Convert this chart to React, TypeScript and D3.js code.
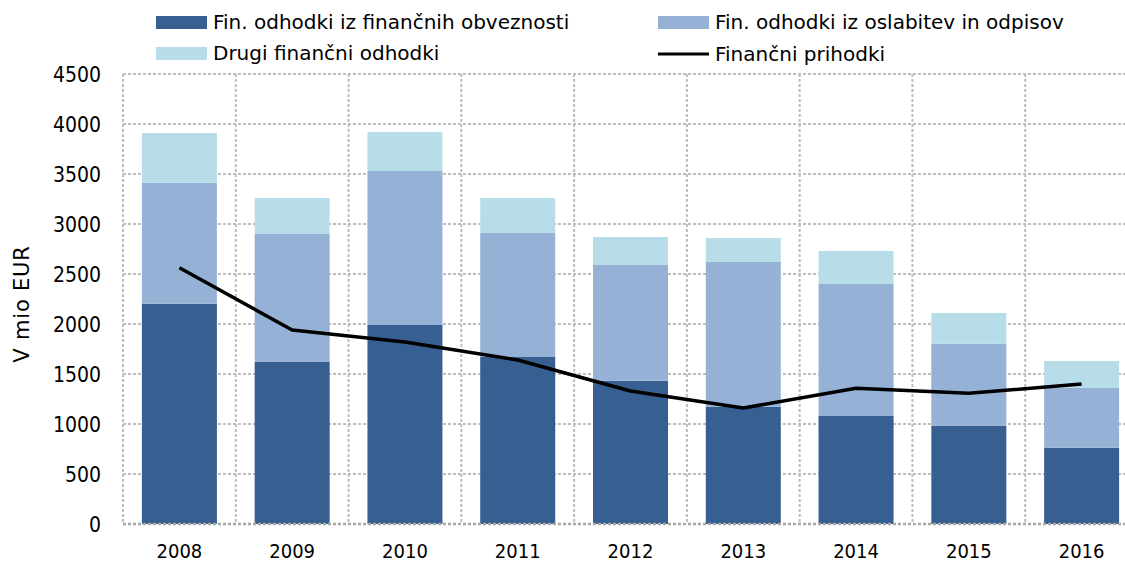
import React, { useEffect, useRef } from "react";
import * as d3 from "d3";

// years on the x axis
const years = ["2008", "2009", "2010", "2011", "2012", "2013", "2014", "2015", "2016"];

// stacked bar segments (mio EUR)
const obveznosti = [2203, 1623, 1990, 1670, 1433, 1173, 1080, 983, 763];
const oslabitve = [1210, 1277, 1540, 1240, 1157, 1447, 1320, 820, 597];
const drugi = [497, 360, 390, 350, 280, 240, 330, 307, 270];

// line series
const prihodki = [2563, 1940, 1820, 1640, 1330, 1160, 1357, 1307, 1400];

const yTicks = [0, 500, 1000, 1500, 2000, 2500, 3000, 3500, 4000, 4500];

const seriesKeys = ["obveznosti", "oslabitve", "drugi"];
const seriesLabels = {
  obveznosti: "Fin. odhodki iz finančnih obveznosti",
  oslabitve: "Fin. odhodki iz oslabitev in odpisov",
  drugi: "Drugi finančni odhodki",
  prihodki: "Finančni prihodki"
};
const colors = {
  obveznosti: "#375f91",
  oslabitve: "#95b2d6",
  drugi: "#b7dee8"
};

const NUM_FONT = "'DejaVu Sans Condensed', 'DejaVu Sans', sans-serif";
const TEXT_FONT = "'DejaVu Sans', sans-serif";
const GRID = "#bdbdbd";

function App() {
  const svgRef = useRef(null);

  useEffect(() => {
    const width = 1125;
    const height = 564;
    const margin = { top: 74, right: -13, bottom: 40, left: 123 };
    const innerRight = width - margin.right;
    const innerBottom = height - margin.bottom;

    const svg = d3.select(svgRef.current);
    svg.selectAll("*").remove();

    const data = years.map((year, i) => ({
      year,
      obveznosti: obveznosti[i],
      oslabitve: oslabitve[i],
      drugi: drugi[i],
      prihodki: prihodki[i]
    }));

    const xScale = d3
      .scaleBand()
      .domain(years)
      .range([margin.left, innerRight])
      .paddingInner(0.335)
      .paddingOuter(0.1675);
    const step = xScale.step();

    const yScale = d3.scaleLinear().domain([0, 4500]).range([innerBottom, margin.top]);

    // gridlines
    const grid = svg.append("g");
    grid
      .selectAll(".hgrid")
      .data(yTicks.filter(t => t > 0))
      .join("line")
      .attr("x1", margin.left)
      .attr("x2", innerRight)
      .attr("y1", d => yScale(d))
      .attr("y2", d => yScale(d))
      .attr("stroke", GRID)
      .attr("stroke-width", 2)
      .attr("stroke-dasharray", "3 2");
    grid
      .selectAll(".vgrid")
      .data(d3.range(years.length + 1))
      .join("line")
      .attr("x1", i => margin.left + i * step)
      .attr("x2", i => margin.left + i * step)
      .attr("y1", margin.top)
      .attr("y2", innerBottom)
      .attr("stroke", GRID)
      .attr("stroke-width", 2)
      .attr("stroke-dasharray", "3 2");

    // stacked bars
    const series = d3.stack().keys(seriesKeys)(data);
    svg
      .append("g")
      .selectAll("g")
      .data(series)
      .join("g")
      .attr("fill", d => colors[d.key])
      .selectAll("rect")
      .data(d => d)
      .join("rect")
      .attr("x", d => xScale(d.data.year))
      .attr("width", xScale.bandwidth())
      .attr("y", d => yScale(d[1]))
      .attr("height", d => yScale(d[0]) - yScale(d[1]));

    // bottom axis line
    svg
      .append("line")
      .attr("x1", margin.left)
      .attr("x2", innerRight)
      .attr("y1", innerBottom)
      .attr("y2", innerBottom)
      .attr("stroke", "#a8a8a8")
      .attr("stroke-width", 2.5)
      .attr("stroke-dasharray", "3 2");

    // line
    const line = d3
      .line()
      .x(d => xScale(d.year) + xScale.bandwidth() / 2)
      .y(d => yScale(d.prihodki));
    svg
      .append("path")
      .datum(data)
      .attr("fill", "none")
      .attr("stroke", "#000")
      .attr("stroke-width", 3.5)
      .attr("stroke-linejoin", "round")
      .attr("d", line);

    // y tick labels
    svg
      .append("g")
      .selectAll("text")
      .data(yTicks)
      .join("text")
      .attr("x", 101)
      .attr("y", d => yScale(d) + 8)
      .attr("text-anchor", "end")
      .attr("font-family", NUM_FONT)
      .attr("font-size", 21)
      .text(d => d);

    // x labels
    svg
      .append("g")
      .selectAll("text")
      .data(years)
      .join("text")
      .attr("x", d => xScale(d) + xScale.bandwidth() / 2)
      .attr("y", 558)
      .attr("text-anchor", "middle")
      .attr("font-family", NUM_FONT)
      .attr("font-size", 20)
      .text(d => d);

    // y axis title
    svg
      .append("text")
      .attr("transform", "translate(29, 304) rotate(-90)")
      .attr("text-anchor", "middle")
      .attr("font-family", TEXT_FONT)
      .attr("font-size", 21)
      .attr("letter-spacing", 0.8)
      .text("V mio EUR");

    // legend
    const legendItems = [
      { key: "obveznosti", x: 156, y: 22, type: "rect" },
      { key: "oslabitve", x: 658, y: 22, type: "rect" },
      { key: "drugi", x: 156, y: 53, type: "rect" },
      { key: "prihodki", x: 658, y: 54, type: "line" }
    ];
    const legend = svg
      .append("g")
      .selectAll("g")
      .data(legendItems)
      .join("g")
      .attr("transform", d => `translate(${d.x}, ${d.y})`);
    legend
      .filter(d => d.type === "rect")
      .append("rect")
      .attr("x", 0)
      .attr("y", -6)
      .attr("width", 51)
      .attr("height", 13)
      .attr("fill", d => colors[d.key]);
    legend
      .filter(d => d.type === "line")
      .append("line")
      .attr("x1", 0)
      .attr("x2", 51)
      .attr("stroke", "#000")
      .attr("stroke-width", 3);
    legend
      .append("text")
      .attr("x", 57)
      .attr("y", 7)
      .attr("font-family", TEXT_FONT)
      .attr("font-size", 20)
      .text(d => seriesLabels[d.key]);
  }, []);

  return (
    <React.Fragment>
      <style>{`body { margin: 0; }`}</style>
      <svg ref={svgRef} width={1125} height={564} style={{ display: "block" }} />
    </React.Fragment>
  );
}

export default App;
